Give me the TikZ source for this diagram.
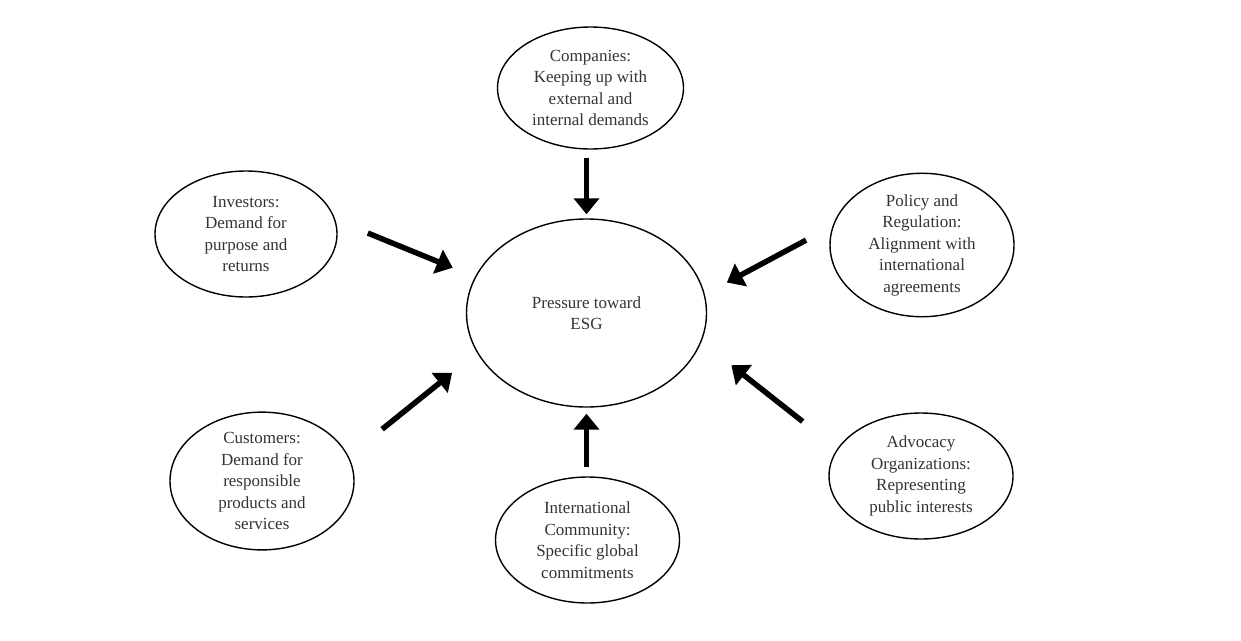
\documentclass[tikz,border=0pt]{standalone}
\usepackage{fontspec}
\setmainfont{Liberation Serif}
\usetikzlibrary{shapes.geometric,arrows.meta}
\begin{document}
\begin{tikzpicture}[x=1pt,y=-1pt,
  bubble/.style={ellipse,draw=black,line width=1.4pt,inner sep=0pt,
    text=black!80,align=center,
    font=\fontsize{17pt}{21.5pt}\selectfont},
  small/.style={bubble,minimum width=184pt,minimum height=126pt},
  push/.style={line width=5.5pt,-{Triangle[width=25pt,length=16pt]}}]
\useasboundingbox (0,0) rectangle (1241,640);
% centre bubble
\node[bubble,minimum width=240pt,minimum height=188pt] (esg) at (586.5,313)
  {Pressure toward\\ESG};
% surrounding bubbles
\node[small,minimum width=186pt,minimum height=122pt] (comp) at (590.5,88)
  {Companies:\\Keeping up with\\external and\\internal demands};
\node[small,minimum width=182pt] (inv) at (246,234)
  {Investors:\\Demand for\\purpose and\\returns};
\node[small,minimum height=124pt] (pol) at (922,245)
  {Policy and\\Regulation:\\Alignment with\\international\\agreements};
\node[small] (cust) at (262,481)
  {Customers:\\Demand for\\responsible\\products and\\services};
\node[small] (intl) at (587.5,540)
  {International\\Community:\\Specific global\\commitments};
\node[small] (adv) at (921,476)
  {Advocacy\\Organizations:\\Representing\\public interests};
% arrows pointing in towards the centre
\draw[push,shorten <=8pt,shorten >=4pt] (comp.south -| esg.north) -- (esg.north);
\draw[push,shorten <=35pt,shorten >=24pt] (inv.9) -- (esg.162.5);
\draw[push,shorten <=30pt,shorten >=25pt] (pol.168.7) -- (esg.9.7);
\draw[push,shorten <=43pt,shorten >=32pt] (cust.16.5) -- (esg.200.4);
\draw[push,shorten <=9pt,shorten >=6pt] (intl.north -| esg.south) -- (esg.south);
\draw[push,shorten <=44pt,shorten >=38pt] (adv.162.8) -- (esg.-14.5);
\end{tikzpicture}
\end{document}
